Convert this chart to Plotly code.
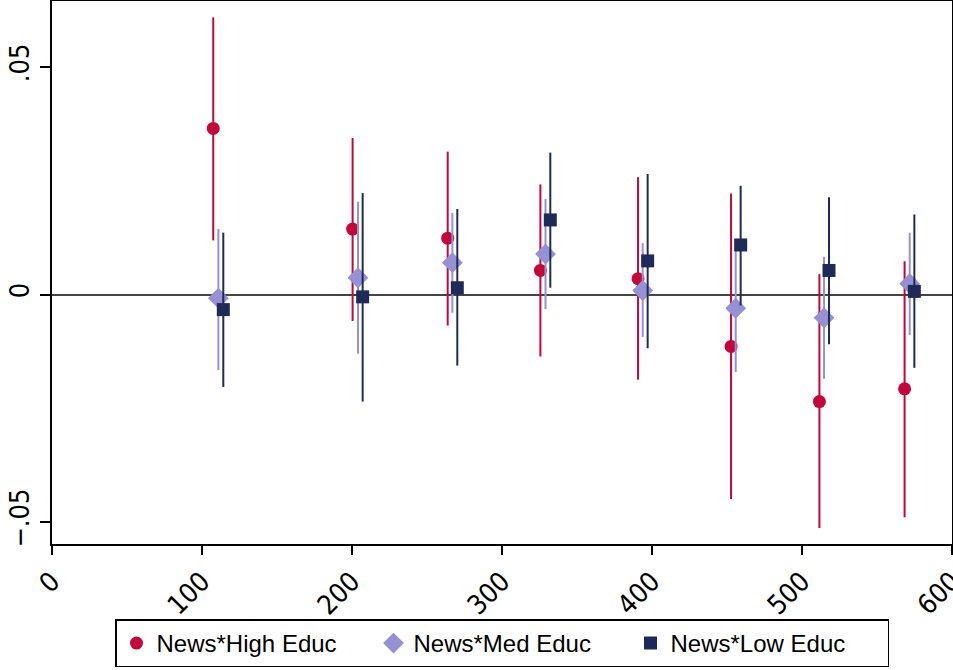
import plotly.graph_objects as go

# High education
high_x = [107.5, 200.4, 263.8, 325.6, 390.7, 452.7, 511.6, 568.4]
high_y = [0.0365, 0.0144, 0.0124, 0.0053, 0.0035, -0.0114, -0.0235, -0.0207]
high_hi = [0.0609, 0.0344, 0.0314, 0.0242, 0.0258, 0.0222, 0.0045, 0.0073]
high_lo = [0.0119, -0.0058, -0.0068, -0.0136, -0.0187, -0.0449, -0.0513, -0.0489]

# Medium education
med_x = [110.9, 204.0, 266.9, 329.0, 393.8, 455.8, 514.7, 571.8]
med_y = [-0.0008, 0.0037, 0.0070, 0.0089, 0.0009, -0.0030, -0.0051, 0.0024]
med_hi = [0.0144, 0.0204, 0.0179, 0.0210, 0.0113, 0.0105, 0.0083, 0.0136]
med_lo = [-0.0166, -0.0130, -0.0040, -0.0032, -0.0093, -0.0170, -0.0185, -0.0089]

# Low education
low_x = [114.2, 207.1, 270.2, 332.2, 397.1, 459.1, 518.0, 574.9]
low_y = [-0.0033, -0.0005, 0.0015, 0.0164, 0.0074, 0.0109, 0.0053, 0.0007]
low_hi = [0.0136, 0.0223, 0.0188, 0.0312, 0.0265, 0.0239, 0.0214, 0.0176]
low_lo = [-0.0203, -0.0235, -0.0156, 0.0015, -0.0118, -0.0024, -0.0109, -0.0161]

x_ticks = [0, 100, 200, 300, 400, 500, 600]
y_ticks = [-0.05, 0, 0.05]
y_labels = ["\u2212.05", "0", ".05"]

series = [
    ("News*High Educ", high_x, high_y, high_hi, high_lo, "#C4073A", "circle", 13),
    ("News*Med Educ", med_x, med_y, med_hi, med_lo, "#9690D4", "diamond", 16),
    ("News*Low Educ", low_x, low_y, low_hi, low_lo, "#1E2B58", "square", 13),
]

fig = go.Figure()
for name, xs, ys, his, los, col, sym, sz in series:
    fig.add_trace(go.Scatter(
        x=xs, y=ys, mode="markers", name=name,
        marker=dict(color=col, symbol=sym, size=sz, line=dict(width=0)),
        error_y=dict(type="data", symmetric=False,
                     array=[h - y for h, y in zip(his, ys)],
                     arrayminus=[y - l for l, y in zip(los, ys)],
                     color=col, thickness=2, width=0),
    ))

font = "Liberation Sans, Arial, Helvetica, sans-serif"
tickfamily = "Liberation Sans Narrow, Arial Narrow, DejaVu Sans Condensed, Liberation Sans, sans-serif"
fig.update_layout(
    width=953, height=670,
    margin=dict(l=52, r=1, t=1, b=126),
    paper_bgcolor="white", plot_bgcolor="white",
    font=dict(family=font, size=24, color="black"),
    showlegend=True,
    legend=dict(orientation="h", x=0.5, xanchor="center", y=-0.139, yanchor="top",
                bordercolor="black", borderwidth=1.5, font=dict(size=24),
                itemsizing="trace", tracegroupgap=0, entrywidth=212),
    xaxis=dict(range=[0, 600], tickvals=x_ticks, tickangle=-45, ticks="outside",
               ticklen=9, tickwidth=1.5, tickcolor="black", showgrid=False, zeroline=False,
               showline=True, linecolor="black", linewidth=2, mirror=True,
               tickfont=dict(size=27, family=tickfamily), ticklabeloverflow="allow",
               automargin=False),
    yaxis=dict(range=[-0.0548, 0.0645], tickvals=y_ticks, ticktext=y_labels, tickangle=-90,
               ticks="outside", ticklen=10, tickwidth=1.5, tickcolor="black", showgrid=False,
               zeroline=True, zerolinecolor="#444444", zerolinewidth=1.5,
               showline=True, linecolor="black", linewidth=2, mirror=True,
               tickfont=dict(size=27, family=tickfamily), automargin=False),
)

fig.write_html("out.html")
